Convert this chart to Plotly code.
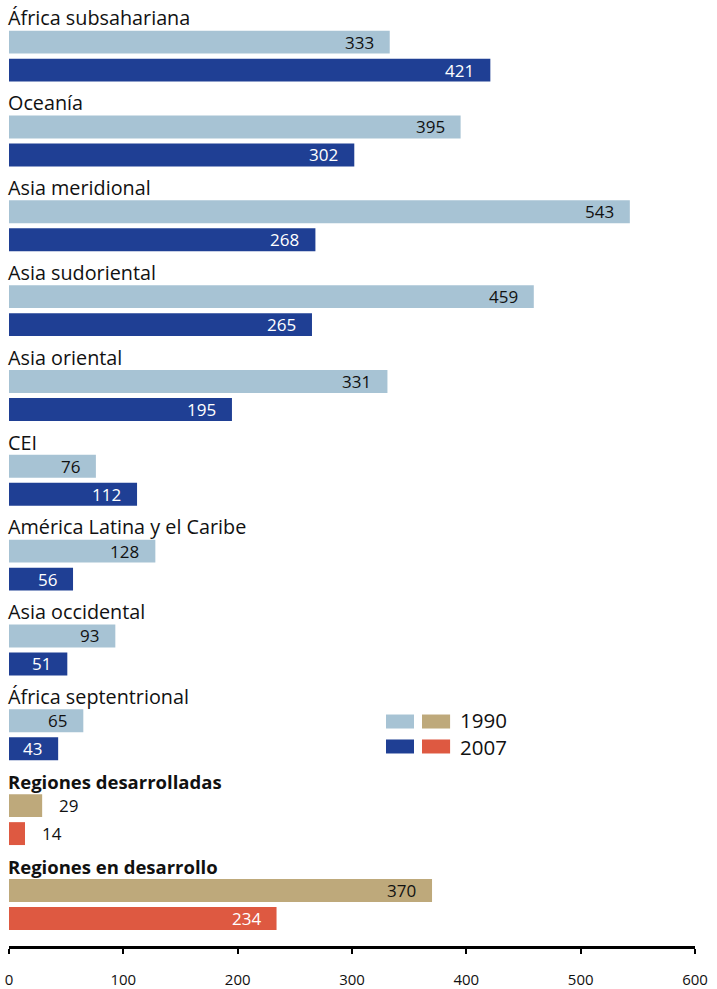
import plotly.graph_objects as go

# Regional values for 1990 and 2007
regions = [
    "África subsahariana",
    "Oceanía",
    "Asia meridional",
    "Asia sudoriental",
    "Asia oriental",
    "CEI",
    "América Latina y el Caribe",
    "Asia occidental",
    "África septentrional",
    "Regiones desarrolladas",
    "Regiones en desarrollo",
]
v1990 = [333, 395, 543, 459, 331, 76, 128, 93, 65, 29, 370]
v2007 = [421, 302, 268, 265, 195, 112, 56, 51, 43, 14, 234]
aggregate = [False] * 9 + [True, True]
years = ["1990", "2007"]
x_ticks = [0, 100, 200, 300, 400, 500, 600]

# Styling
C_LIGHT = "#a7c3d4"
C_DARK = "#1f3f94"
C_TAN = "#bea97b"
C_RED = "#de5941"
FONT = "Open Sans"
OFF1, OFF2, BAR_W = 0.285, 0.615, 0.27

n = len(regions)
y1 = [i + OFF1 for i in range(n)]
y2 = [i + OFF2 for i in range(n)]
col1 = [C_TAN if a else C_LIGHT for a in aggregate]
col2 = [C_RED if a else C_DARK for a in aggregate]

fig = go.Figure()
fig.add_trace(go.Bar(x=v1990, y=y1, orientation="h", width=BAR_W,
                     marker=dict(color=col1, line=dict(width=0)),
                     name=years[0], hoverinfo="x"))
fig.add_trace(go.Bar(x=v2007, y=y2, orientation="h", width=BAR_W,
                     marker=dict(color=col2, line=dict(width=0)),
                     name=years[1], hoverinfo="x"))

annotations = []
# Region headings
for i, (name, agg) in enumerate(zip(regions, aggregate)):
    annotations.append(dict(
        x=0, y=i, xref="x", yref="y", xanchor="left", yanchor="middle",
        text=f"<b>{name}</b>" if agg else name, showarrow=False,
        font=dict(family=FONT, size=18.5 if agg else 19.8, color="#111111"),
        xshift=-3))

# Value labels: inside the bar end, or just past it for short bars
def value_label(v, y, dark):
    inside = v * 686 / 600 >= 40
    return dict(
        x=v, y=y, xref="x", yref="y",
        xanchor="right" if inside else "left", yanchor="middle",
        text=str(v), showarrow=False,
        xshift=-14 if inside else 15,
        font=dict(family=FONT, size=17,
                  color="white" if (dark and inside) else "#111111"))

for i in range(n):
    annotations.append(value_label(v1990[i], y1[i], False))
    annotations.append(value_label(v2007[i], y2[i], True))

# Legend built from swatches plus a two-line label
shapes = []
swatch_rows = [(C_LIGHT, C_TAN, 0.2373), (C_DARK, C_RED, 0.2109)]
for ca, cb, yc in swatch_rows:
    for x0, x1, c in [(0.5496, 0.5904, ca), (0.602, 0.643, cb)]:
        shapes.append(dict(type="rect", xref="paper", yref="paper",
                           x0=x0, x1=x1, y0=yc - 0.0074, y1=yc + 0.0074,
                           fillcolor=c, line=dict(width=0)))
annotations.append(dict(x=0.654, y=0.2245, xref="paper", yref="paper",
                        xanchor="left", yanchor="middle", align="left",
                        text="<br>".join(years), showarrow=False,
                        font=dict(family=FONT, size=20.5, color="#111111")))

fig.update_layout(
    width=717, height=989,
    margin=dict(l=9, r=22, t=0, b=41),
    paper_bgcolor="white", plot_bgcolor="white",
    showlegend=False, barmode="overlay",
    annotations=annotations, shapes=shapes,
    xaxis=dict(range=[0, 600], tickvals=x_ticks, showgrid=False,
               zeroline=False, showline=True, linecolor="black", linewidth=3,
               ticks="outside", ticklen=5, tickwidth=2, tickcolor="black",
               ticklabelstandoff=13,
               tickfont=dict(family=FONT, size=15, color="#111111"),
               fixedrange=True),
    yaxis=dict(range=[10.94, -0.212], showgrid=False, zeroline=False,
               showticklabels=False, showline=False, fixedrange=True),
)

fig.write_html("out.html")
